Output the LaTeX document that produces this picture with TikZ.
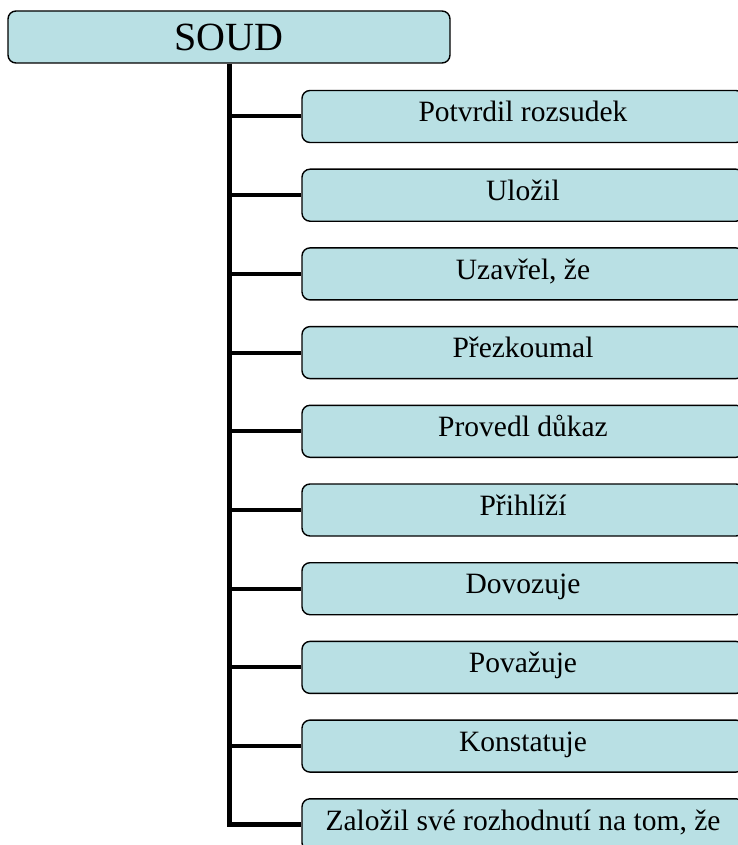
\documentclass[tikz,border=0pt]{standalone}
\usepackage{fontspec}
\setmainfont{Liberation Serif}
\usetikzlibrary{positioning}
\definecolor{boxfill}{RGB}{185,224,228}
\tikzset{
  headbox/.style={draw, line width=1.4pt, rounded corners=8pt, fill=boxfill,
    minimum width=442pt, minimum height=52pt, inner sep=0pt,
    font=\fontsize{40}{44}\selectfont, text height=27pt, text depth=0pt},
  itembox/.style={draw, line width=1.4pt, rounded corners=8pt, fill=boxfill,
    minimum width=442pt, minimum height=52pt, inner sep=0pt,
    font=\fontsize{29.5}{34}\selectfont, text height=19.5pt, text depth=9pt},
  branch/.style={line width=4pt},
  trunk/.style={line width=5pt, line join=miter}
}
\begin{document}
\begin{tikzpicture}[x=1pt, y=-1pt]
\useasboundingbox (0,0) rectangle (737,845);

% Head box
\node[headbox] (soud) at (229,37) {SOUD};

% Item boxes
\foreach \txt [count=\i from 0] in {Potvrdil rozsudek, Uložil, {Uzavřel, že},
    Přezkoumal, Provedl důkaz, Přihlíží, Dovozuje, Považuje, Konstatuje,
    {Založil své rozhodnutí na tom, že}}
  \node[itembox] (b\i) at (523,116.5+78.7*\i) {\txt};

% Trunk down to the last box
\draw[trunk] (soud.south) |- (b9.west);

% Branches from the trunk
\foreach \i in {0,...,8}
  \draw[branch] (soud.south |- b\i.west) -- (b\i.west);
\end{tikzpicture}
\end{document}
